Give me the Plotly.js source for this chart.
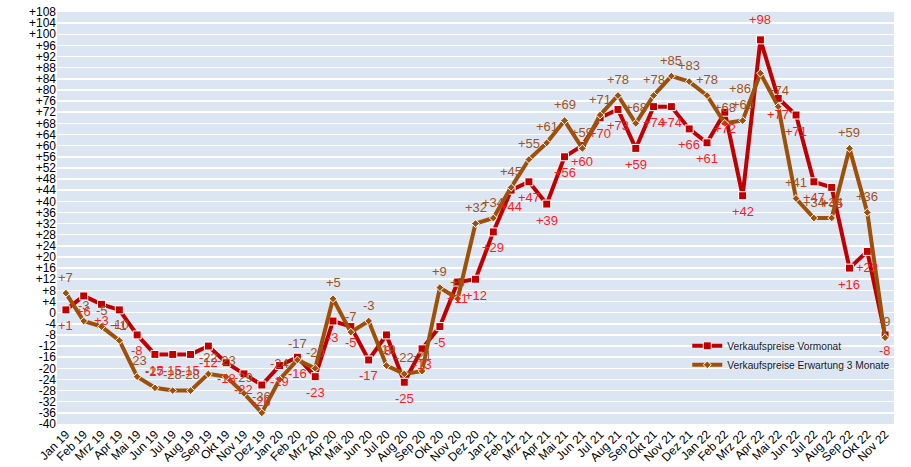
<!DOCTYPE html>
<html>
<head>
<meta charset="utf-8">
<script src="https://cdn.plot.ly/plotly-3.0.1.min.js"></script>
<style>html,body{margin:0;padding:0;background:#fff;}#chart{width:911px;height:467px;}</style>
</head>
<body>
<div id="chart"></div>
<script>
const months = ["Jan 19","Feb 19","Mrz 19","Apr 19","Mai 19","Jun 19","Jul 19","Aug 19","Sep 19","Okt 19","Nov 19","Dez 19",
"Jan 20","Feb 20","Mrz 20","Apr 20","Mai 20","Jun 20","Jul 20","Aug 20","Sep 20","Okt 20","Nov 20","Dez 20",
"Jan 21","Feb 21","Mrz 21","Apr 21","Mai 21","Jun 21","Jul 21","Aug 21","Sep 21","Okt 21","Nov 21","Dez 21",
"Jan 22","Feb 22","Mrz 22","Apr 22","Mai 22","Jun 22","Jul 22","Aug 22","Sep 22","Okt 22","Nov 22"];

const vormonat = [1,6,3,1,-8,-15,-15,-15,-12,-18,-22,-26,
-19,-16,-23,-3,-5,-17,-8,-25,-13,-5,11,12,
29,44,47,39,56,60,70,73,59,74,74,66,
61,72,42,98,77,71,47,45,16,22,-8];

const erwartung = [7,-3,-5,-10,-23,-27,-28,-28,-22,-23,-29,-36,
-24,-17,-20,5,-7,-3,-19,-22,-21,9,5,32,
34,45,55,61,69,59,71,78,68,78,85,83,
78,68,69,86,74,41,34,34,59,36,-9];

const nameVormonat = "Verkaufspreise Vormonat";
const nameErwartung = "Verkaufspreise Erwartung 3 Monate";

// label placement tweaks (pixel shifts), keyed by month
const redLabelShift = {"Apr 22": {x: 0, y: 20}};
const brownLabelShift = {"Apr 22": {x: -20, y: -15}};

const yTicks = [];
for (let v = -40; v <= 108; v += 4) yTicks.push(v);
const yTickText = yTicks.map(v => v > 0 ? "+" + v : String(v));
const fmt = v => v > 0 ? "+" + v : String(v);

const FONT = "Liberation Sans, Arial, sans-serif";

const traces = [
  {
    x: months, y: vormonat, name: nameVormonat, type: "scatter", mode: "lines+markers",
    line: {color: "#c00000", width: 4},
    marker: {symbol: "square", size: 8, color: "#c00000", line: {color: "#ffffff", width: 1}}
  },
  {
    x: months, y: erwartung, name: nameErwartung, type: "scatter", mode: "lines+markers",
    line: {color: "#9e5009", width: 4},
    marker: {symbol: "diamond", size: 6, color: "#9e5009", line: {color: "#ffffff", width: 1}}
  }
];

const annotations = [];
months.forEach((m, i) => {
  const rs = redLabelShift[m] || {x: 0, y: -16};
  annotations.push({
    x: m, y: vormonat[i], xref: "x", yref: "y", text: fmt(vormonat[i]), showarrow: false,
    xshift: rs.x, yshift: rs.y,
    font: {family: FONT, size: 13, color: "#ff1a1a"}
  });
  const bs = brownLabelShift[m] || {x: 0, y: 16};
  annotations.push({
    x: m, y: erwartung[i], xref: "x", yref: "y", text: fmt(erwartung[i]), showarrow: false,
    xshift: bs.x, yshift: bs.y,
    font: {family: FONT, size: 13, color: "#a0521e"}
  });
});

const layout = {
  width: 911, height: 467,
  margin: {l: 57, r: 17, t: 12, b: 43},
  paper_bgcolor: "#ffffff",
  plot_bgcolor: "#dce6f2",
  font: {family: FONT, size: 12, color: "#000000"},
  showlegend: true,
  legend: {
    x: 0.753, y: 0.225, xanchor: "left", yanchor: "top",
    bgcolor: "rgba(0,0,0,0)", borderwidth: 0,
    font: {size: 10.2, color: "#1a1a1a"},
    tracegroupgap: 0
  },
  annotations: annotations,
  xaxis: {
    type: "category", range: [-0.5, 46.5],
    tickangle: -45, tickfont: {size: 12},
    showgrid: false, zeroline: false, showline: false,
    ticks: "", automargin: false
  },
  yaxis: {
    range: [-40, 108], tickvals: yTicks, ticktext: yTickText,
    tickfont: {size: 12},
    showgrid: true, gridcolor: "#ffffff", gridwidth: 1.5,
    zeroline: false, showline: false, ticks: "", automargin: false
  }
};

Plotly.newPlot("chart", traces, layout, {staticPlot: true, displayModeBar: false});
</script>
</body>
</html>
